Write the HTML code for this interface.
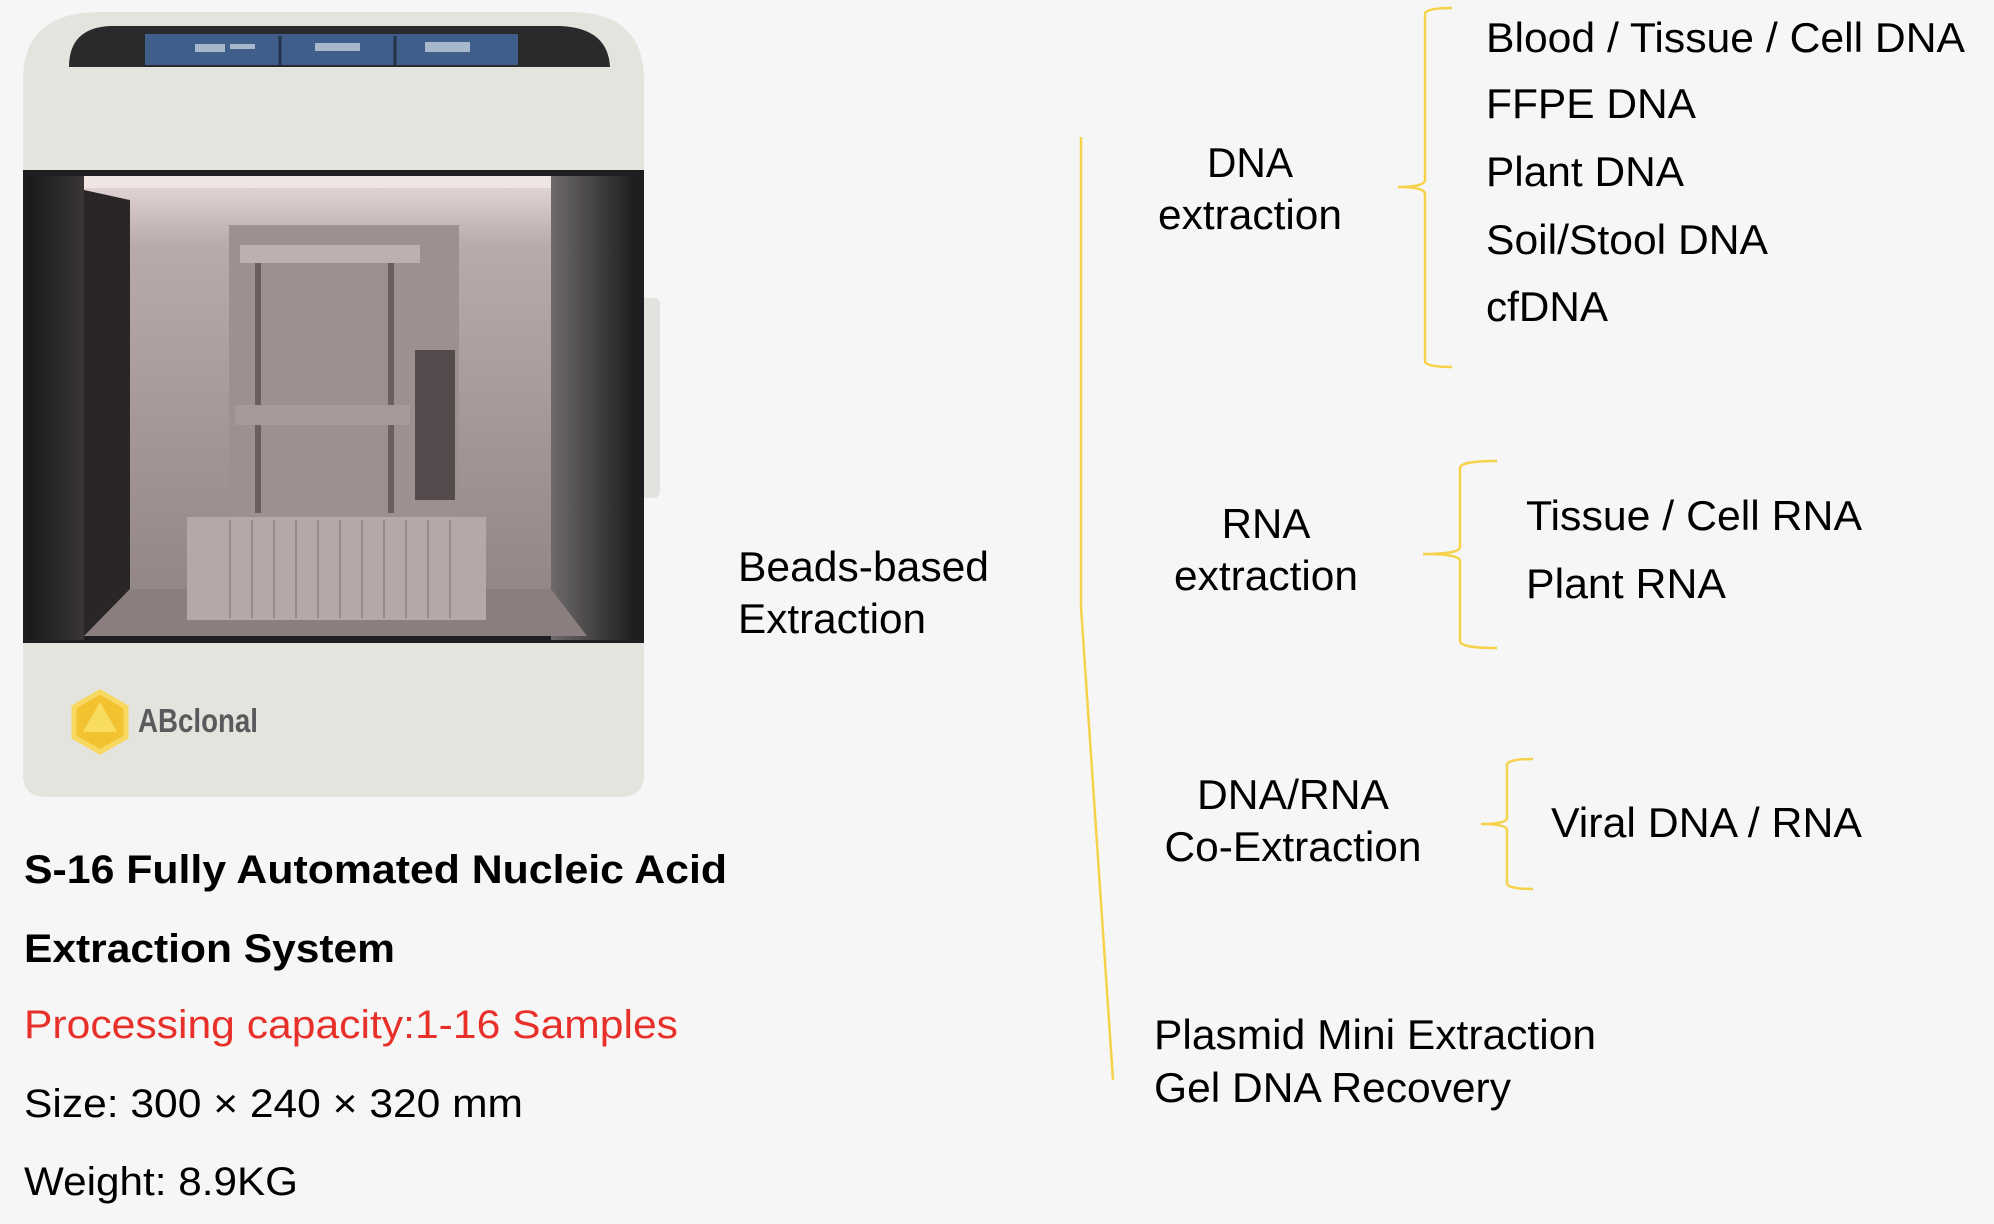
<!DOCTYPE html>
<html><head><meta charset="utf-8"><style>
html,body{margin:0;padding:0;background:#f6f6f6}
svg{display:block}
text{font-family:"Liberation Sans",Arial,sans-serif;fill:#000}
</style></head><body>
<svg width="1994" height="1224" viewBox="0 0 1994 1224" xmlns="http://www.w3.org/2000/svg">
<defs>
<linearGradient id="inner" x1="0" y1="0" x2="0" y2="1">
<stop offset="0" stop-color="#e9dcdc"/><stop offset="0.15" stop-color="#b9aaab"/><stop offset="1" stop-color="#8f8282"/>
</linearGradient>
<linearGradient id="side" x1="0" y1="0" x2="1" y2="0">
<stop offset="0" stop-color="#1a1a1c"/><stop offset="1" stop-color="#3a3638"/>
</linearGradient>
<linearGradient id="rside" x1="0" y1="0" x2="1" y2="0">
<stop offset="0" stop-color="#6e6a6b"/><stop offset="1" stop-color="#1c1c1e"/>
</linearGradient>
</defs>
<rect width="1994" height="1224" fill="#f6f6f6"/>

<!-- device -->
<rect x="630" y="298" width="30" height="200" rx="6" fill="#e2e2de"/>
<path d="M23 80 Q23 12 100 12 L570 12 Q644 12 644 80 L644 172 L23 172 Z" fill="#e4e4df"/>
<path d="M69 67 Q69 28 110 26 L560 26 Q608 28 610 67 Z" fill="#2a2a2c"/>
<rect x="145" y="34" width="373" height="31" fill="#3f5f8a"/>
<line x1="280" y1="36" x2="280" y2="65" stroke="#22334a" stroke-width="3"/>
<line x1="395" y1="36" x2="395" y2="65" stroke="#22334a" stroke-width="3"/>
<rect x="195" y="44" width="30" height="8" fill="#a8b8cc"/><rect x="230" y="44" width="25" height="5" fill="#a8b8cc"/>
<rect x="315" y="43" width="45" height="8" fill="#a8b8cc"/><rect x="425" y="42" width="45" height="10" fill="#a8b8cc"/>
<rect x="23" y="170" width="621" height="476" fill="#1e1e20"/>
<rect x="84" y="176" width="503" height="460" fill="url(#inner)"/>
<rect x="84" y="176" width="503" height="12" fill="#efe6e4"/>
<path d="M84 190 L130 200 L130 636 L84 636 Z" fill="#2a2627"/>
<rect x="29" y="176" width="55" height="464" fill="url(#side)"/>
<rect x="551" y="176" width="85" height="464" fill="url(#rside)"/>
<rect x="229" y="225" width="230" height="292" fill="#9d9091"/>
<rect x="240" y="245" width="180" height="18" fill="#bcb0b0"/>
<rect x="255" y="263" width="6" height="250" fill="#6a5f60"/>
<rect x="388" y="263" width="6" height="250" fill="#6a5f60"/>
<rect x="235" y="405" width="175" height="20" fill="#a59999"/>
<rect x="415" y="350" width="40" height="150" fill="#554b4c"/>
<path d="M130 589 L551 589 L587 636 L84 636 Z" fill="#8a7e7f"/>
<rect x="187" y="517" width="299" height="103" fill="#b4a8a8"/>
<g stroke="#978b8b" stroke-width="2">
<line x1="230" y1="520" x2="230" y2="618"/><line x1="252" y1="520" x2="252" y2="618"/><line x1="274" y1="520" x2="274" y2="618"/><line x1="296" y1="520" x2="296" y2="618"/><line x1="318" y1="520" x2="318" y2="618"/><line x1="340" y1="520" x2="340" y2="618"/><line x1="362" y1="520" x2="362" y2="618"/><line x1="384" y1="520" x2="384" y2="618"/><line x1="406" y1="520" x2="406" y2="618"/><line x1="428" y1="520" x2="428" y2="618"/><line x1="450" y1="520" x2="450" y2="618"/>
</g>
<path d="M23 643 L644 643 L644 775 Q644 797 620 797 L47 797 Q23 797 23 775 Z" fill="#e4e4df"/>
<polygon points="100,692 126,707 126,737 100,752 74,737 74,707" fill="#f2c230" stroke="#f7d860" stroke-width="5"/>
<polygon points="100,702 117,732 83,732" fill="#f8dc60"/>
<text x="138" y="732" font-size="33" font-weight="bold" style="fill:#5a5a5c" textLength="120" lengthAdjust="spacingAndGlyphs">ABclonal</text>

<!-- left text -->
<text x="24" y="883" font-size="40" font-weight="bold" textLength="703" lengthAdjust="spacingAndGlyphs">S-16 Fully Automated Nucleic Acid</text>
<text x="24" y="962" font-size="40" font-weight="bold" textLength="371" lengthAdjust="spacingAndGlyphs">Extraction System</text>
<text x="24" y="1038" font-size="40" style="fill:#e8302a" textLength="654" lengthAdjust="spacingAndGlyphs">Processing capacity:1-16 Samples</text>
<text x="24" y="1117" font-size="40" textLength="499" lengthAdjust="spacingAndGlyphs">Size: 300 × 240 × 320 mm</text>
<text x="24" y="1195" font-size="40" textLength="274" lengthAdjust="spacingAndGlyphs">Weight: 8.9KG</text>

<text x="738" y="581" font-size="42" textLength="251" lengthAdjust="spacingAndGlyphs">Beads-based</text>
<text x="738" y="633" font-size="42" textLength="188" lengthAdjust="spacingAndGlyphs">Extraction</text>

<!-- lines -->
<g fill="none" stroke="#f6d24a" stroke-width="2.5">
<polyline points="1081,137 1081,607 1113,1080"/>
<path d="M1452 8 Q1425 8 1425 14 L1425 180 Q1425 187 1398 187 Q1425 187 1425 194 L1425 361 Q1425 367 1452 367"/>
<path d="M1497 461 Q1460 461 1460 468 L1460 547 Q1460 554 1423 554 Q1460 554 1460 561 L1460 641 Q1460 648 1497 648"/>
<path d="M1533 759 Q1507 759 1507 765 L1507 818 Q1507 824 1481 824 Q1507 824 1507 830 L1507 883 Q1507 889 1533 889"/>
</g>

<g font-size="42">
<text x="1250" y="177" text-anchor="middle" textLength="86" lengthAdjust="spacingAndGlyphs">DNA</text>
<text x="1250" y="229" text-anchor="middle" textLength="184" lengthAdjust="spacingAndGlyphs">extraction</text>
<text x="1486" y="52" textLength="479" lengthAdjust="spacingAndGlyphs">Blood / Tissue / Cell DNA</text>
<text x="1486" y="118" textLength="210" lengthAdjust="spacingAndGlyphs">FFPE DNA</text>
<text x="1486" y="186" textLength="198" lengthAdjust="spacingAndGlyphs">Plant DNA</text>
<text x="1486" y="254" textLength="282" lengthAdjust="spacingAndGlyphs">Soil/Stool DNA</text>
<text x="1486" y="321" textLength="122" lengthAdjust="spacingAndGlyphs">cfDNA</text>
<text x="1266" y="538" text-anchor="middle">RNA</text>
<text x="1266" y="590" text-anchor="middle" textLength="184" lengthAdjust="spacingAndGlyphs">extraction</text>
<text x="1526" y="530" textLength="336" lengthAdjust="spacingAndGlyphs">Tissue / Cell RNA</text>
<text x="1526" y="598" textLength="200" lengthAdjust="spacingAndGlyphs">Plant RNA</text>
<text x="1293" y="809" text-anchor="middle" textLength="192" lengthAdjust="spacingAndGlyphs">DNA/RNA</text>
<text x="1293" y="861" text-anchor="middle" textLength="257" lengthAdjust="spacingAndGlyphs">Co-Extraction</text>
<text x="1551" y="837" textLength="311" lengthAdjust="spacingAndGlyphs">Viral DNA / RNA</text>
<text x="1154" y="1049" textLength="442" lengthAdjust="spacingAndGlyphs">Plasmid Mini Extraction</text>
<text x="1154" y="1102" textLength="357" lengthAdjust="spacingAndGlyphs">Gel DNA Recovery</text>
</g>
</svg>
</body></html>
